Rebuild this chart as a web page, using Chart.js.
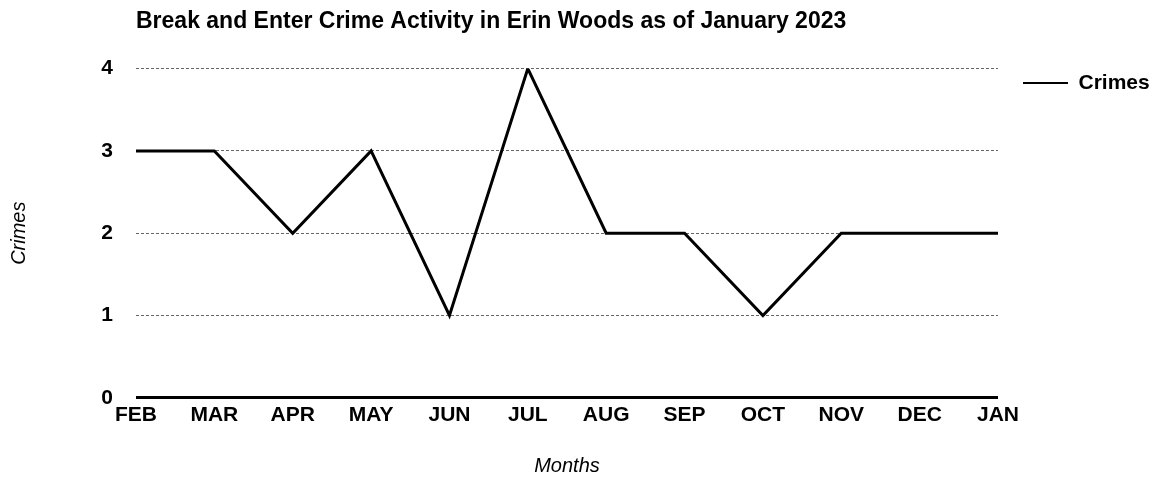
<!DOCTYPE html>
<html>
<head>
<meta charset="utf-8">
<script src="https://cdn.jsdelivr.net/npm/chart.js@4/dist/chart.umd.min.js"></script>
<style>
  html, body { margin: 0; padding: 0; background: #fff; }
  #wrap { width: 1156px; height: 478px; }
</style>
</head>
<body>
<div id="wrap"><canvas id="c" width="1156" height="478"></canvas></div>
<script>
const months = ['FEB', 'MAR', 'APR', 'MAY', 'JUN', 'JUL', 'AUG', 'SEP', 'OCT', 'NOV', 'DEC', 'JAN']
const crimes = [3, 3, 2, 3, 1, 4, 2, 2, 1, 2, 2, 2]
const yTicks = [0, 1, 2, 3, 4]

const FONT = 'Arial, "Liberation Sans", sans-serif'

new Chart(document.getElementById('c'), {
  type: 'line',
  data: {
    labels: months,
    datasets: [{
      label: 'Crimes',
      data: crimes,
      borderColor: '#000',
      backgroundColor: '#000',
      borderWidth: 3,
      pointRadius: 0,
      tension: 0,
      fill: false,
    }],
  },
  options: {
    responsive: false, maintainAspectRatio: false, animation: false,
    layout: { padding: { left: 6, right: 0, top: 2, bottom: 0 } },
    scales: {
      x: {
        offset: false,
        grid: { display: false, drawTicks: false },
        border: { display: false },
        ticks: { color: '#000', padding: 5, font: { size: 21, family: FONT, weight: 'bold' }, maxRotation: 0, autoSkip: false },
        title: { display: true, text: 'Months', color: '#000', padding: { top: 21, bottom: 0 }, font: { size: 20, family: FONT, style: 'italic' } },
      },
      y: {
        min: 0, max: 4,
        afterBuildTicks: s => { s.ticks = yTicks.map(v => ({ value: v })) },
        afterFit: s => { s.width = 130 },
        grid: {
          drawTicks: false,
          color: c => c.tick && c.tick.value === 0 ? '#000' : '#666',
          lineWidth: c => c.tick && c.tick.value === 0 ? 3 : 1,
        },
        border: { display: false, dash: c => c.tick && c.tick.value === 0 ? [] : [3, 2] },
        ticks: { color: '#000', padding: 23, font: { size: 21, family: FONT, weight: 'bold' } },
        title: { display: true, text: 'Crimes', color: '#000', padding: { top: 1, bottom: 0 }, font: { size: 20, family: FONT, style: 'italic' } },
      },
    },
    plugins: {
      title: {
        display: true, fullSize: false, align: 'start',
        text: 'Break and Enter Crime Activity in Erin Woods as of January 2023',
        color: '#000', padding: { top: 6, bottom: 33 },
        font: { size: 23, family: FONT, weight: 'bold' },
      },
      legend: {
        display: true, position: 'right', align: 'start', maxWidth: 158,
        title: { display: true, text: ' ', font: { size: 12 }, padding: { top: 31, bottom: 0 } },
        labels: {
          color: '#000', boxWidth: 45, boxHeight: 0, padding: 25,
          font: { size: 21, family: FONT, weight: 'bold' },
          generateLabels: chart => Chart.defaults.plugins.legend.labels.generateLabels(chart)
            .map(l => ({ ...l, lineWidth: 2 })),
        },
      },
      tooltip: { enabled: false },
    },
  },
})
</script>
</body>
</html>
